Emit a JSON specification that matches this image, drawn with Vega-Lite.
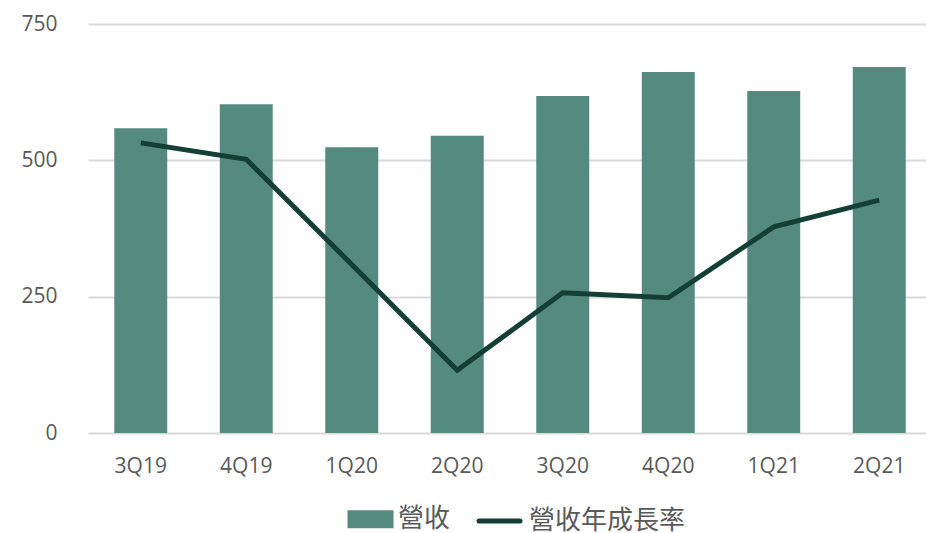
{
  "$schema": "https://vega.github.io/schema/vega-lite/v6.json",
  "width": 838,
  "height": 409,
  "autosize": "none",
  "padding": {"left": 88, "top": 24, "right": 0, "bottom": 100},
  "data": {
    "values": [
      {"quarter": "3Q19", "revenue": 559, "growth": 532},
      {"quarter": "4Q19", "revenue": 603, "growth": 502},
      {"quarter": "1Q20", "revenue": 524, "growth": 309},
      {"quarter": "2Q20", "revenue": 545, "growth": 115},
      {"quarter": "3Q20", "revenue": 618, "growth": 257},
      {"quarter": "4Q20", "revenue": 662, "growth": 248},
      {"quarter": "1Q21", "revenue": 627, "growth": 378},
      {"quarter": "2Q21", "revenue": 671, "growth": 427}
    ]
  },
  "encoding": {
    "x": {
      "field": "quarter",
      "type": "nominal",
      "sort": null,
      "scale": {"range": [0, 844], "paddingInner": 0.498, "paddingOuter": 0.249},
      "axis": {"title": null, "labelAngle": 0, "domain": false, "ticks": false, "labelPadding": 22}
    }
  },
  "layer": [
    {
      "mark": {"type": "bar", "color": "#558B7F"},
      "encoding": {
        "y": {
          "field": "revenue",
          "type": "quantitative",
          "scale": {"domain": [0, 750], "nice": false},
          "axis": {"title": null, "values": [0, 250, 500, 750], "domain": false, "ticks": false, "labelPadding": 31, "grid": true}
        },
        "color": {
          "datum": "營收",
          "scale": {"domain": ["營收", "營收年成長率"], "range": ["#558B7F", "#133F35"]},
          "legend": {
            "title": null,
            "orient": "none",
            "direction": "horizontal",
            "legendX": 261,
            "legendY": 482,
            "symbolSize": 400,
            "labelFontSize": 26,
            "labelFont": "Noto Sans CJK TC",
            "labelColor": "#595959",
            "labelLimit": 300,
            "columnPadding": 18,
            "labelOffset": 23,
            "encode": {
              "symbols": {
                "update": {
                  "shape": {"signal": "datum.label === '營收' ? 'M-1.2,-0.65H2.9V0.65H-1.2Z' : 'M-1.4,0H2.7'"},
                  "fill": {"signal": "datum.label === '營收' ? '#558B7F' : 'transparent'"},
                  "stroke": {"signal": "datum.label === '營收' ? 'transparent' : '#133F35'"},
                  "strokeWidth": {"value": 5},
                  "strokeCap": {"value": "round"}
                }
              }
            }
          }
        }
      }
    },
    {
      "mark": {"type": "line", "strokeWidth": 5, "color": "#133F35"},
      "encoding": {
        "y": {"field": "growth", "type": "quantitative"},
        "color": {"datum": "營收年成長率"}
      }
    }
  ],
  "config": {
    "view": {"stroke": null},
    "axis": {"labelFont": "Open Sans", "labelFontSize": 21, "labelColor": "#595959", "gridColor": "#D9D9D9", "gridWidth": 2},
    "axisX": {"grid": false}
  }
}
